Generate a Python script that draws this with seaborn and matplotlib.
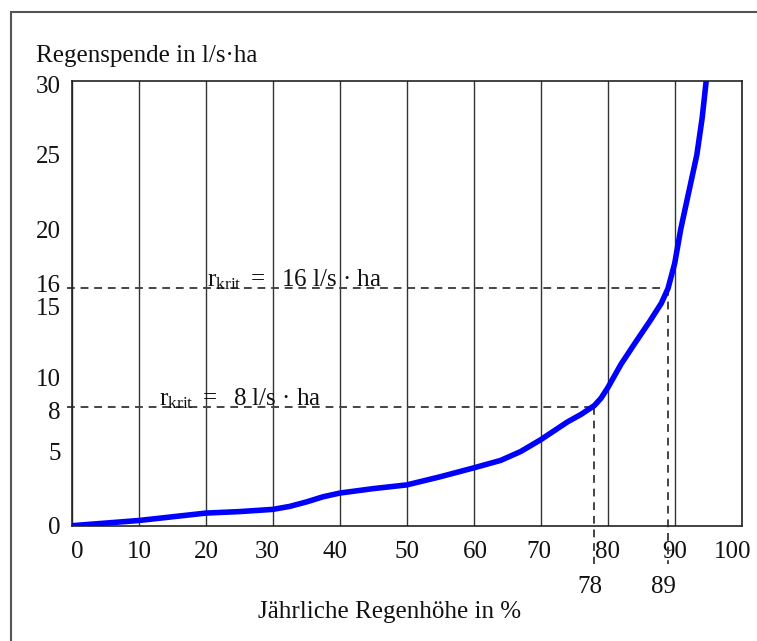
import seaborn as sns
import matplotlib.pyplot as plt
import matplotlib.transforms as mtransforms
from matplotlib.patches import Rectangle

# Annual rain depth (%) vs. rain intensity (l/s·ha)
anteil = [0, 10, 20, 25, 30, 32.5, 35, 37.5, 40, 45, 50, 55, 60, 64, 67, 70,
          74, 76, 78, 79, 80, 81, 82, 84.2, 86.3, 88, 89, 90, 90.9, 92.1,
          93.3, 94.1, 94.7]
spende = [0, 0.35, 0.85, 0.95, 1.1, 1.3, 1.6, 1.95, 2.2, 2.5, 2.75, 3.3, 3.9,
          4.4, 5.0, 5.8, 7.0, 7.5, 8.1, 8.6, 9.3, 10.1, 10.9, 12.4, 13.8, 15,
          16, 17.7, 20, 22.5, 25, 27.5, 30]

x_ticks = [0, 10, 20, 30, 40, 50, 60, 70, 80, 90, 100]
y_ticks = [0, 5, 8, 10, 15, 16, 20, 25, 30]
y_grid = [5, 10, 15, 20, 25]

# critical values
krit_x = [78, 89]
krit_y = [8, 16]
krit_text = [r'$\mathrm{r}_{\mathrm{krit}}$ $=$  8 l/s · ha',
             r'$\mathrm{r}_{\mathrm{krit}}$ $=$  16 l/s · ha']
krit_text_x = [13.0, 20.2]

sns.set_theme(style='white')
plt.rcParams['font.family'] = ['Liberation Serif', 'DejaVu Serif']
plt.rcParams['mathtext.fontset'] = 'custom'
plt.rcParams['mathtext.rm'] = 'Liberation Serif'
plt.rcParams['mathtext.it'] = 'Liberation Serif'

fig = plt.figure(figsize=(7.57, 6.41), dpi=100)
ax = fig.add_axes([0.0951, 0.1799, 0.8847, 0.6942])

# outer frame (top and left only visible)
fig.add_artist(Rectangle((0.0145, -0.1), 1.2, 1.081, transform=fig.transFigure,
                         fill=False, edgecolor='#555555', lw=1.5))

ax.set_xlim(0, 100)
ax.set_ylim(0, 30)
ax.set_xticks(x_ticks)
ax.set_yticks(y_ticks)
ax.set_yticks(y_grid, minor=True)
ax.set_yticklabels([str(v) for v in y_ticks])
ax.tick_params(which='both', length=0, labelsize=18, colors='#111111')
ax.tick_params(axis='x', pad=11)
ax.tick_params(axis='y', pad=8)
ax.grid(axis='x', which='major', color='#333333', lw=1.0)
ax.grid(axis='y', which='minor', color='#111111', lw=1.0)
ax.grid(axis='y', which='major', visible=False)
for s in ax.spines.values():
    s.set_color('#222222')
    s.set_linewidth(1.2)


def nudge(lab, dx, dy):
    lab.set_transform(lab.get_transform() +
                      mtransforms.ScaledTranslation(dx / 100, dy / 100, fig.dpi_scale_trans))


# labels sit a little off the grid in the original
for lab, v in zip(ax.get_yticklabels(), y_ticks):
    dy = {16: 5, 15: -3, 8: -3, 30: -4}.get(v, 0)
    if dy:
        nudge(lab, 0, dy)
for lab, v in zip(ax.get_xticklabels(), x_ticks):
    dx = {0: 5, 30: -6, 40: -5, 60: 2, 70: -2, 100: -9}.get(v, 0)
    if dx:
        nudge(lab, dx, 0)

# dashed helper lines
for xk, yk in zip(krit_x, krit_y):
    ax.plot([-0.8, xk], [yk, yk], ls=(0, (4, 3)), color='#444444', lw=1.4, clip_on=False)
    ax.plot([xk, xk], [yk, -2.6], ls=(0, (4, 3)), color='#444444', lw=1.4, clip_on=False)

sns.lineplot(x=anteil, y=spende, ax=ax, color='#0000ff', lw=4, sort=False,
             estimator=None, zorder=5, solid_joinstyle='round',
             solid_capstyle='round')

for tx, yk, t in zip(krit_text_x, krit_y, krit_text):
    ax.text(tx, yk + 0.1, t, fontsize=18, va='baseline', ha='left', color='#111111')

# second row labels for 78 and 89
trans = mtransforms.blended_transform_factory(ax.transData, ax.transAxes)
for xk in krit_x:
    ax.text(xk - 0.7, -0.137, str(xk), transform=trans, fontsize=18,
            ha='center', va='center', color='#111111')

fig.text(0.0476, 0.903, 'Regenspende in l/s·ha', fontsize=18, ha='left',
         va='baseline', color='#111111')
fig.text(0.515, 0.045, 'Jährliche Regenhöhe in %', fontsize=18, ha='center',
         va='center', color='#111111')

fig.savefig('out.png', dpi=100)
